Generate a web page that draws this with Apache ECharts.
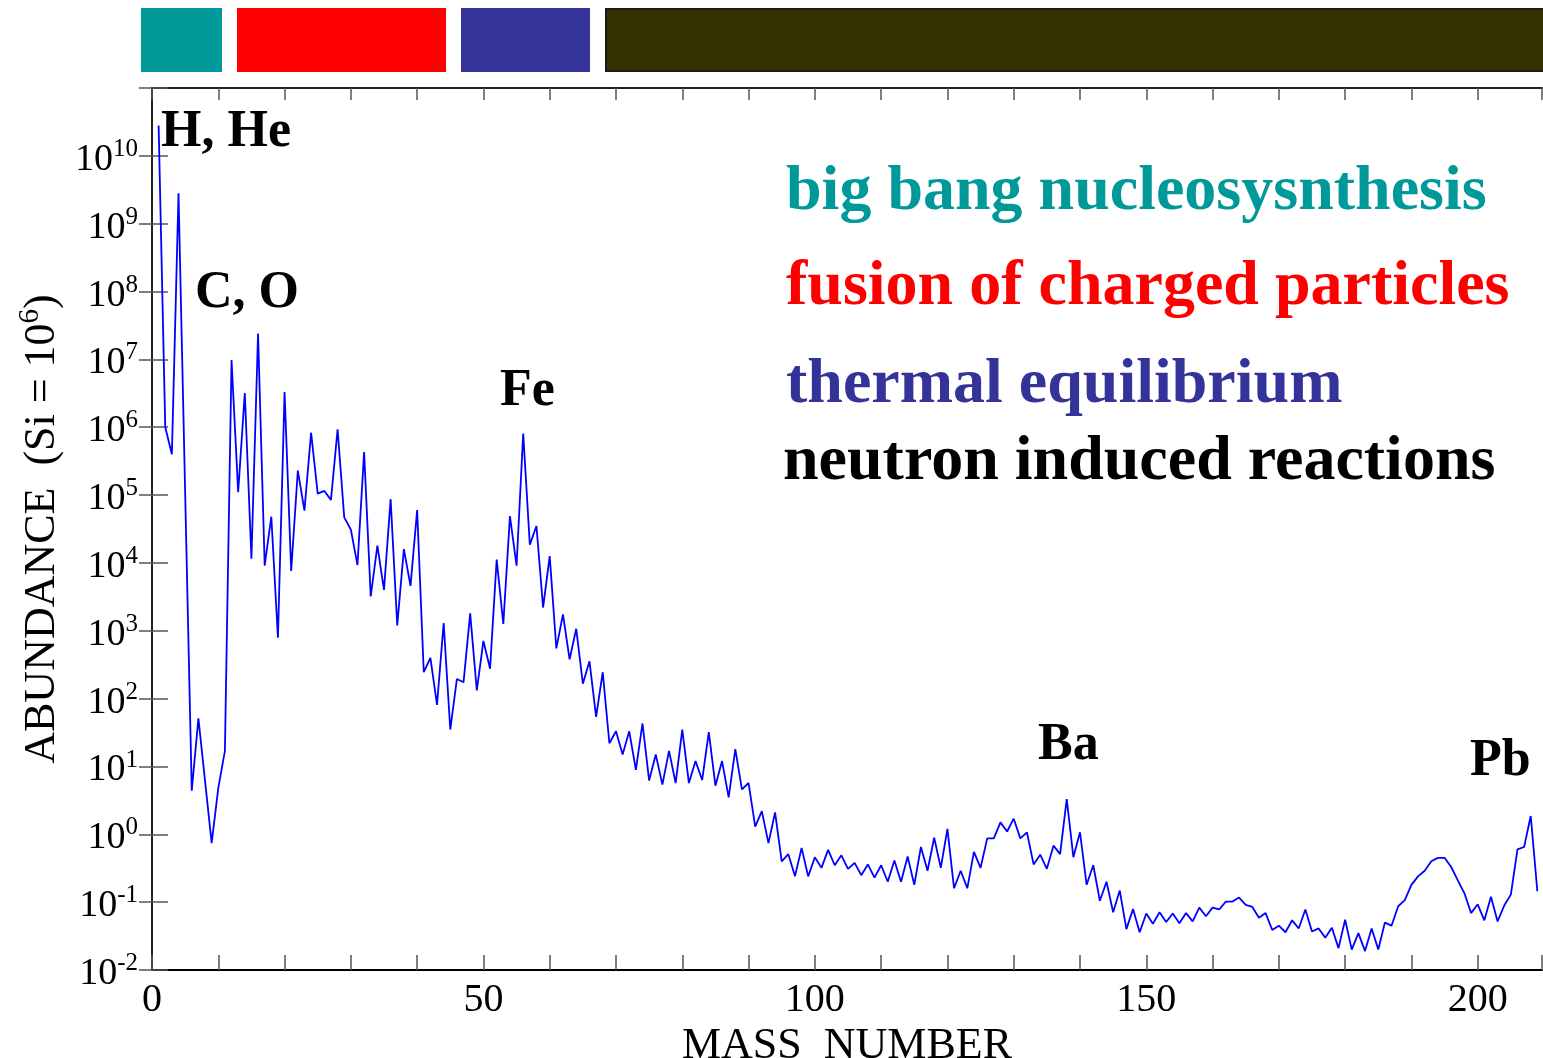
<!DOCTYPE html>
<html>
<head>
<meta charset="utf-8">
<script src="https://cdn.jsdelivr.net/npm/echarts@6/dist/echarts.min.js"></script>
<style>
html,body{margin:0;padding:0;background:#fff;overflow:hidden;}
#chart{width:1543px;height:1058px;}
</style>
</head>
<body>
<div id="chart"></div>
<script>
// Mass numbers (A = 5 and A = 8 have no stable nuclei and are absent)
const massNumbers = [1,2,3,4,6,7,9,10,11,12,13,14,15,16,17,18,19,20,
  21,22,23,24,25,26,27,28,29,30,31,32,33,34,35,36,37,38,39,40,
  41,42,43,44,45,46,47,48,49,50,51,52,53,54,55,56,57,58,59,60,
  61,62,63,64,65,66,67,68,69,70,71,72,73,74,75,76,77,78,79,80,
  81,82,83,84,85,86,87,88,89,90,91,92,93,94,95,96,97,98,99,100,
  101,102,103,104,105,106,107,108,109,110,111,112,113,114,115,116,117,118,119,120,
  121,122,123,124,125,126,127,128,129,130,131,132,133,134,135,136,137,138,139,140,
  141,142,143,144,145,146,147,148,149,150,151,152,153,154,155,156,157,158,159,160,
  161,162,163,164,165,166,167,168,169,170,171,172,173,174,175,176,177,178,179,180,
  181,182,183,184,185,186,187,188,189,190,191,192,193,194,195,196,197,198,199,200,
  201,202,203,204,205,206,207,208,209];

// Abundance (Si = 1e6), same order as massNumbers
const abundance = [2.8e10,1.0e6,4.0e5,2.8e9,4.4,51,0.74,4.8,17,9.8e6,1.1e5,3.2e6,1.15e4,2.4e7,9.1e3,4.8e4,790,3.3e6,
  7.6e3,2.3e5,5.9e4,8.3e5,1.05e5,1.15e5,8.5e4,9.3e5,4.7e4,3.1e4,9.3e3,4.3e5,3.2e3,1.8e4,4.0e3,8.7e4,1.2e3,1.6e4,4.6e3,6.0e4,
  245,400,81,1.3e3,35,195,174,1.8e3,132,710,275,1.12e4,1.26e3,4.9e4,9.1e3,8.1e5,1.86e4,3.5e4,2.2e3,1.26e4,
  550,1.74e3,380,1.07e3,166,355,54,245,22,33,15,33,8.9,43,6.2,15,5.4,17,5.7,35,
  5.7,12,6.3,32,5.2,12,3.5,18,4.6,5.7,1.3,2.2,0.74,2.1,0.40,0.51,0.24,0.63,0.24,0.46,
  0.32,0.59,0.35,0.49,0.31,0.38,0.25,0.36,0.23,0.35,0.20,0.41,0.20,0.47,0.18,0.65,0.29,0.89,0.32,1.2,
  0.16,0.29,0.16,0.55,0.32,0.87,0.87,1.5,1.1,1.7,0.87,1.07,0.36,0.50,0.31,0.68,0.51,3.3,0.46,1.07,
  0.18,0.35,0.105,0.20,0.071,0.148,0.040,0.079,0.036,0.068,0.048,0.071,0.051,0.068,0.049,0.069,0.052,0.083,0.062,0.083,
  0.078,0.102,0.102,0.117,0.091,0.085,0.059,0.069,0.039,0.045,0.036,0.054,0.041,0.078,0.037,0.041,0.030,0.042,0.021,0.055,
  0.020,0.035,0.019,0.041,0.020,0.050,0.045,0.087,0.107,0.18,0.24,0.29,0.40,0.45,0.45,0.33,0.21,0.135,0.069,0.093,
  0.054,0.120,0.052,0.089,0.129,0.60,0.65,1.86,0.145];

const xTickLabels = [0, 50, 100, 150, 200];
const annotations = ['H, He', 'C, O', 'Fe', 'Ba', 'Pb'];
const processNames = ['big bang nucleosysnthesis', 'fusion of charged particles',
  'thermal equilibrium', 'neutron induced reactions'];
const processColors = ['#009999', '#ff0000', '#333399', '#000000'];

const seriesData = massNumbers.map((a, i) => [a, abundance[i]]);
const serif = '"Liberation Serif", "Times New Roman", serif';

const chart = echarts.init(document.getElementById('chart'), null, {renderer: 'canvas'});

const supRich = {
  b: {fontSize: 38, fontFamily: serif, color: '#000', lineHeight: 38, padding: [8, 0, 0, 0], verticalAlign: 'middle'},
  s: {fontSize: 25, fontFamily: serif, color: '#000', lineHeight: 25, verticalAlign: 'top'}
};

function yLabel(v) {
  const e = Math.round(Math.log10(v));
  if (e > 10) return '';
  return '{b|10}{s|' + e + '}';
}

const annPos = [[161, 132.5], [195, 293.5], [500, 391.5], [1038, 745.5], [1470, 761.5]];
const legendY = [192.4, 287.4, 385.4, 462.4];
const legendX = [786, 786, 786, 783];

const graphics = [
  {type: 'rect', shape: {x: 141, y: 8, width: 81, height: 64}, style: {fill: '#009999'}},
  {type: 'rect', shape: {x: 237, y: 8, width: 209, height: 64}, style: {fill: '#ff0000'}},
  {type: 'rect', shape: {x: 461, y: 8, width: 129, height: 64}, style: {fill: '#353599'}},
  {type: 'rect', shape: {x: 606, y: 9, width: 945, height: 62}, style: {fill: '#333300', stroke: '#1a1a1a', lineWidth: 2}}
];
annotations.forEach((t, i) => {
  graphics.push({type: 'text', x: annPos[i][0], y: annPos[i][1], z: 100,
    style: {text: t, fontSize: 52, fontWeight: 'bold', fontFamily: serif, fill: '#000', verticalAlign: 'middle', align: 'left'}});
});
processNames.forEach((t, i) => {
  graphics.push({type: 'text', x: legendX[i], y: legendY[i], z: 100,
    style: {text: t, fontSize: 64, fontWeight: 'bold', fontFamily: serif, fill: processColors[i], verticalAlign: 'middle', align: 'left'}});
});

const option = {
  animation: false,
  backgroundColor: '#fff',
  grid: {left: 152, top: 88, width: 1390, height: 882, containLabel: false, outerBoundsMode: 'none'},
  xAxis: [{
    type: 'value', position: 'bottom', min: 0, max: 209.7, interval: 10,
    axisLine: {show: true, lineStyle: {color: '#000', width: 2}},
    axisTick: {show: true, inside: true, length: 15, lineStyle: {color: '#555', width: 1.5}},
    axisLabel: {show: true, margin: 10, fontSize: 40, fontFamily: serif, color: '#000',
      formatter: v => (xTickLabels.indexOf(v) >= 0 ? String(v) : '')},
    splitLine: {show: false},
    name: 'MASS  NUMBER', nameLocation: 'middle', nameGap: 46,
    nameTextStyle: {fontSize: 44, fontFamily: serif, color: '#000'}
  }, {
    type: 'value', position: 'top', min: 0, max: 209.7, interval: 10,
    axisLine: {show: true, lineStyle: {color: '#222', width: 2}},
    axisTick: {show: true, inside: true, length: 12, lineStyle: {color: '#555', width: 1.5}},
    axisLabel: {show: false}, splitLine: {show: false}
  }],
  yAxis: [{
    type: 'log', logBase: 10, position: 'left', min: 0.01, max: 1e11, interval: 1,
    axisLine: {show: true, lineStyle: {color: '#000', width: 2}},
    axisTick: {show: true, inside: true, length: 16, lineStyle: {color: '#555', width: 1.5}},
    axisLabel: {show: true, margin: 14, formatter: yLabel, rich: supRich, align: 'right'},
    splitLine: {show: false}, minorTick: {show: false},
    name: '{a|ABUNDANCE  (Si = 10}{s|6}{a|)}', nameLocation: 'middle', nameGap: 88, nameRotate: 90,
    nameTextStyle: {
      rich: {
        a: {fontSize: 44, fontFamily: serif, color: '#000', lineHeight: 44, padding: [8, 0, 0, 0]},
        s: {fontSize: 29, fontFamily: serif, color: '#000', lineHeight: 29, verticalAlign: 'top'}
      }
    }
  }, {
    type: 'log', logBase: 10, position: 'right', min: 0.01, max: 1e11, interval: 1,
    axisLine: {show: true, lineStyle: {color: '#222', width: 2}},
    axisTick: {show: true, inside: true, length: 13, lineStyle: {color: '#555', width: 1.5}},
    axisLabel: {show: false}, splitLine: {show: false}
  }],
  series: [{
    type: 'line', xAxisIndex: 0, yAxisIndex: 0,
    data: seriesData, showSymbol: false, symbol: 'none',
    lineStyle: {color: '#0000ff', width: 1.8}, z: 5
  }],
  graphic: graphics
};
chart.setOption(option);
</script>
</body>
</html>
